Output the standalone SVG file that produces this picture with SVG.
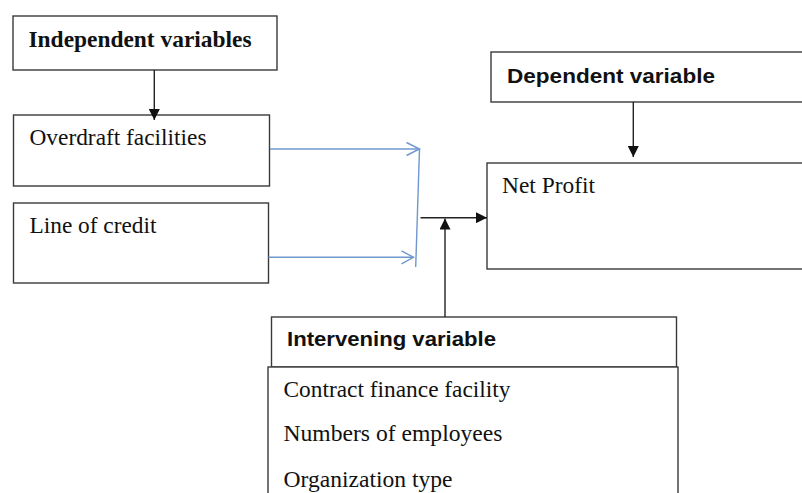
<svg xmlns="http://www.w3.org/2000/svg" width="802" height="493" viewBox="0 0 802 493">
<style>
.box{fill:#fff;stroke:#3a3a3a;stroke-width:1.4}
.serif{font-family:"Liberation Serif","Times New Roman",serif;font-size:23px;fill:#111}
.bserif{font-family:"Liberation Serif","Times New Roman",serif;font-size:23px;font-weight:bold;fill:#111}
.sans{font-family:"Liberation Sans",Arial,sans-serif;font-size:20px;font-weight:bold;fill:#111}
.blk{stroke:#222;stroke-width:1.4;fill:none}
.blue{stroke:#6f98cf;stroke-width:1.4;fill:none}
</style>
<defs>
<marker id="ah" viewBox="0 0 10 10" refX="10" refY="5" markerWidth="11" markerHeight="11" markerUnits="userSpaceOnUse" orient="auto">
<path d="M0,0 L10,5 L0,10 Z" fill="#111"/>
</marker>
</defs>
<rect width="802" height="493" fill="#fff"/>
<g id="independent">
<rect class="box" x="13" y="16" width="264" height="54"/>
<text class="bserif" x="28.5" y="46.5" textLength="223" lengthAdjust="spacingAndGlyphs">Independent variables</text>
</g>
<g id="overdraft">
<rect class="box" x="13.5" y="115" width="256" height="71"/>
<text class="serif" x="29.5" y="145" textLength="177" lengthAdjust="spacingAndGlyphs">Overdraft facilities</text>
</g>
<g id="credit">
<rect class="box" x="13.5" y="203" width="255" height="80"/>
<text class="serif" x="29.5" y="233" textLength="127" lengthAdjust="spacingAndGlyphs">Line of credit</text>
</g>
<g id="dependent">
<rect class="box" x="491" y="52" width="320" height="50"/>
<text class="sans" x="507" y="82.5" textLength="208" lengthAdjust="spacingAndGlyphs">Dependent variable</text>
</g>
<g id="netprofit">
<rect class="box" x="487" y="163" width="324" height="106"/>
<text class="serif" x="502" y="193" textLength="93" lengthAdjust="spacingAndGlyphs">Net Profit</text>
</g>
<g id="intervening">
<rect class="box" x="271.5" y="317" width="405" height="50"/>
<text class="sans" x="287" y="345.5" textLength="209" lengthAdjust="spacingAndGlyphs">Intervening variable</text>
</g>
<g id="intervening-items">
<rect class="box" x="268" y="367" width="410" height="140"/>
<text class="serif" x="283.5" y="397" textLength="227" lengthAdjust="spacingAndGlyphs">Contract finance facility</text>
<text class="serif" x="283.5" y="441" textLength="219" lengthAdjust="spacingAndGlyphs">Numbers of employees</text>
<text class="serif" x="283.5" y="487" textLength="169" lengthAdjust="spacingAndGlyphs">Organization type</text>
</g>
<g id="connectors">
<line class="blk" x1="154.3" y1="70" x2="154.3" y2="120" marker-end="url(#ah)"/>
<line class="blk" x1="633.3" y1="102" x2="633.3" y2="157" marker-end="url(#ah)"/>
<line class="blue" x1="270" y1="149" x2="419.5" y2="149"/>
<polyline class="blue" points="406.5,142.5 419.5,149 406.5,155.5"/>
<line class="blue" x1="268.5" y1="257.3" x2="413.5" y2="257.3"/>
<polyline class="blue" points="401.5,250.8 413.5,257.3 401.5,263.8"/>
<line class="blue" x1="419.5" y1="149" x2="415.7" y2="267"/>
<line class="blk" x1="420.5" y1="217.7" x2="487" y2="217.7" marker-end="url(#ah)"/>
<line class="blk" x1="445" y1="317" x2="445" y2="218.5" marker-end="url(#ah)"/>
</g>
</svg>
